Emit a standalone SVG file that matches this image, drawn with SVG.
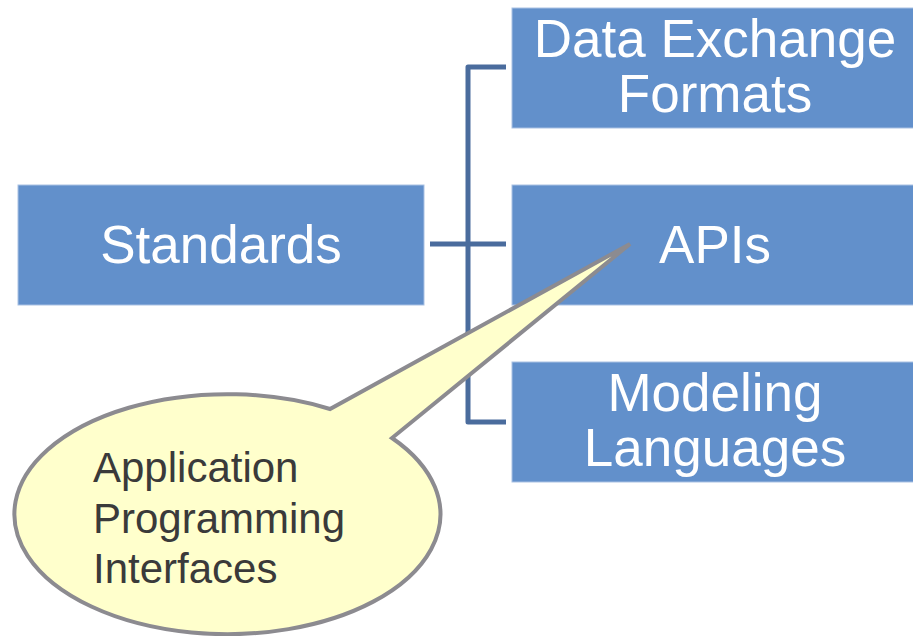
<svg xmlns="http://www.w3.org/2000/svg" width="913" height="636" viewBox="0 0 913 636">
<style>
.box{fill:#6290cb;stroke:#a9c1e3;stroke-width:1}
.bt{font-family:"Liberation Sans",Arial,sans-serif;font-size:53px;fill:#ffffff;text-anchor:middle}
.conn{fill:none;stroke:#4a6c9d;stroke-width:5;stroke-linejoin:round}
.ct{font-family:"Liberation Sans",Arial,sans-serif;font-size:42px;fill:#3a3a3a}
</style>
<rect width="913" height="636" fill="#ffffff"/>
<g id="standards">
<rect class="box" x="18" y="185" width="406" height="120"/>
<text class="bt" x="221" y="263">Standards</text>
</g>
<g id="data-exchange">
<rect class="box" x="512" y="8" width="406" height="120"/>
<text class="bt" x="715" y="57">Data Exchange</text>
<text class="bt" x="715" y="112">Formats</text>
</g>
<g id="apis">
<rect class="box" x="512" y="185" width="406" height="120"/>
<text class="bt" x="715" y="263">APIs</text>
</g>
<g id="modeling">
<rect class="box" x="512" y="362" width="406" height="120"/>
<text class="bt" x="715" y="411">Modeling</text>
<text class="bt" x="715" y="466">Languages</text>
</g>
<g id="connectors">
<path class="conn" d="M506,67 H468 V422 H506"/>
<path class="conn" d="M430,244 H506"/>
</g>
<g id="callout">
<path d="M330,409 A213,120 0 1 0 392,438 L630,244 Z" fill="#ffffcc" stroke="#8c8b90" stroke-width="4" stroke-linejoin="miter"/>
<text class="ct" x="93" y="482">Application</text>
<text class="ct" x="93" y="533">Programming</text>
<text class="ct" x="93" y="583">Interfaces</text>
</g>
</svg>
